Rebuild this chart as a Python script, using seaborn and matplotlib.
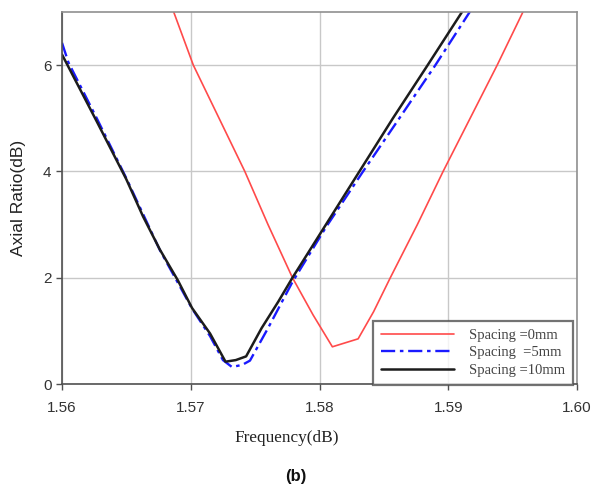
import matplotlib
matplotlib.use("Agg")
import matplotlib.pyplot as plt
import seaborn as sns
import pandas as pd

# Data
freq_0mm = [1.5686, 1.5702, 1.5722, 1.5742, 1.5760, 1.5779, 1.5795, 1.5810, 1.5830,
            1.5842, 1.5855, 1.5876, 1.5896, 1.5917, 1.5938, 1.5959]
ar_0mm = [7.05, 6.0, 5.0, 4.0, 3.0, 2.0, 1.3, 0.70, 0.85,
          1.36, 2.0, 3.0, 4.0, 5.0, 6.0, 7.05]

freq_5mm = [1.5600, 1.5605, 1.5627, 1.5650, 1.5676, 1.5701, 1.5715, 1.5725, 1.5732,
            1.5740, 1.5746, 1.5760, 1.5779, 1.5805, 1.5833, 1.5862, 1.5890, 1.5918]
ar_5mm = [6.42, 6.05, 5.0, 3.87, 2.52, 1.42, 0.9, 0.45, 0.32,
          0.36, 0.44, 1.05, 1.92, 2.95, 3.97, 5.0, 6.0, 7.05]

freq_10mm = [1.5600, 1.5627, 1.5650, 1.5663, 1.5676, 1.5690, 1.5701, 1.5715, 1.5727,
             1.5735, 1.5743, 1.5755, 1.5768, 1.5779, 1.5805, 1.5831, 1.5857, 1.5884, 1.5912]
ar_10mm = [6.2, 4.94, 3.85, 3.15, 2.53, 1.95, 1.43, 0.95, 0.42,
           0.45, 0.52, 1.05, 1.55, 2.0, 3.0, 4.0, 5.0, 6.0, 7.05]

labels = ["Spacing =0mm", "Spacing  =5mm", "Spacing =10mm"]
x_ticks = [1.56, 1.57, 1.58, 1.59, 1.60]
x_tick_labels = ["1.56", "1.57", "1.58", "1.59", "1.60"]
y_ticks = [0, 2, 4, 6]

sns.set_style("white")
plt.rcParams['font.family'] = ['Liberation Sans', 'DejaVu Sans']

fig = plt.figure(figsize=(5.92, 4.91), dpi=100)
ax = fig.add_axes([62/592, 1 - 384/491, (577-62)/592, (384-12)/491])

df0 = pd.DataFrame({"f": freq_0mm, "ar": ar_0mm})
df5 = pd.DataFrame({"f": freq_5mm, "ar": ar_5mm})
df10 = pd.DataFrame({"f": freq_10mm, "ar": ar_10mm})

sns.lineplot(data=df0, x="f", y="ar", ax=ax, color="#ff4a4a", lw=1.2,
             label=labels[0], sort=False)
sns.lineplot(data=df5, x="f", y="ar", ax=ax, color="#1a1aff", lw=1.7,
             linestyle=(0, (6, 2, 1.5, 2)), label=labels[1], sort=False)
sns.lineplot(data=df10, x="f", y="ar", ax=ax, color="#1c1c1c", lw=1.8,
             label=labels[2], sort=False)

ax.set_xlim(1.56, 1.60)
ax.set_ylim(0, 7)
ax.set_xticks(x_ticks)
ax.set_xticklabels(x_tick_labels)
ax.set_yticks(y_ticks)
ax.grid(True, color="#c8c8c8", lw=1.0)
for gl in ax.get_ygridlines():
    if abs(gl.get_ydata()[0] - 6) < 1e-6:
        gl.set_linewidth(2.0)
        gl.set_color("#b8b8b8")

for side in ["top", "right"]:
    ax.spines[side].set_color("#909090")
    ax.spines[side].set_linewidth(1.2)
for side in ["left", "bottom"]:
    ax.spines[side].set_color("#505050")
    ax.spines[side].set_linewidth(1.2)

ax.tick_params(axis="both", direction="out", length=4, width=1, color="#505050",
               labelsize=11, labelcolor="#333333", bottom=True, left=True)
ax.tick_params(axis="x", pad=8)

ax.set_ylabel("Axial Ratio(dB)", fontsize=12.5, color="#222222", labelpad=12)
ax.set_xlabel("")
fig.text(287/592, 1 - 438/491, "Frequency(dB)", ha="center", va="center",
         fontsize=12.4, color="#222222", family=["Liberation Serif", "DejaVu Serif"])

leg = ax.legend(loc="lower right", bbox_to_anchor=(1 - 4/515, -1/372), frameon=True,
                fancybox=False, handlelength=5.0, handletextpad=1.0,
                borderaxespad=0.0, prop={"family": ["Liberation Serif"], "size": 10.5},
                labelspacing=0.3, borderpad=0.55)
leg.get_frame().set_edgecolor("#505050")
leg.get_frame().set_linewidth(1.6)
for t in leg.get_texts():
    t.set_color("#444444")

fig.text(296/592, 1 - 477/491, "(b)", ha="center", va="center", fontsize=12,
         fontweight="bold", color="#111111")

fig.savefig("out.png", dpi=100)
